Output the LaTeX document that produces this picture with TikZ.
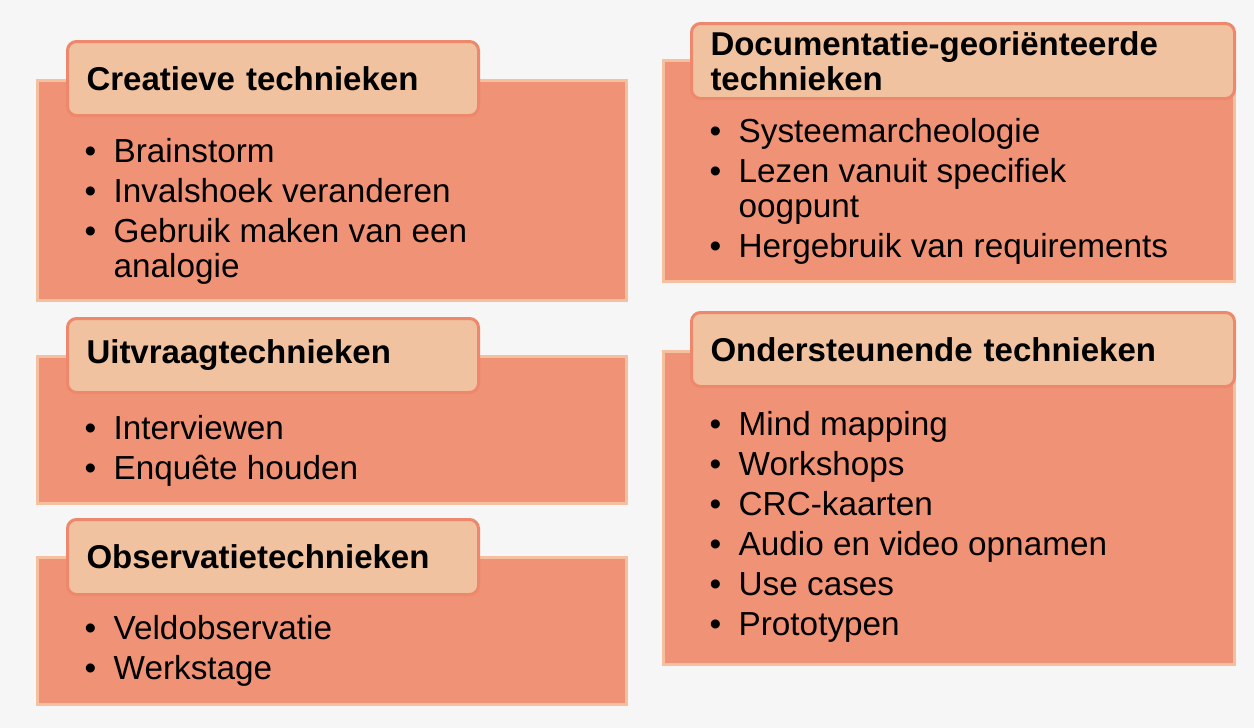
\documentclass[tikz,border=0pt]{standalone}
\usepackage{fontspec}
\setmainfont{Liberation Sans}
\usepackage{xcolor}
\usepackage{tikz}
\usetikzlibrary{backgrounds}
\definecolor{bgcolor}{RGB}{246,246,246}
\definecolor{bodycolor}{RGB}{240,146,118}
\definecolor{bodyrule}{RGB}{244,192,160}
\definecolor{kopcolor}{RGB}{241,194,159}
\definecolor{koprule}{RGB}{238,136,108}
\newcommand{\kopfont}{\fontsize{33}{35}\selectfont\bfseries}
\newcommand{\lijstfont}{\fontsize{33.3}{35}\selectfont}
\tikzset{
	body/.style={
		,rectangle
		,fill		= bodycolor
		,draw		= bodyrule
		,line width	= 3pt
		,anchor		= north west
		,inner sep	= 0pt
		,outer sep	= 0pt
	}
	,kop/.style		= {rectangle, rounded corners=9pt, fill=kopcolor, draw=koprule, line width=3pt,
		anchor=north west, outer sep=0pt, inner xsep=19pt, inner ysep=0pt, align=left, font=\kopfont}
	,lijst/.style	= {anchor=base west, inner sep=0pt, font=\lijstfont}
}

\begin{document}
\begin{tikzpicture}[x=1pt, y=-1pt]

	% the page
	\fill[bgcolor] (0,0) rectangle (1254,728);
	\useasboundingbox (0,0) rectangle (1254,728);

	% left column
	\node (creatief) [body, minimum width=589pt, minimum height=220pt] at (37.5,80.5) {};
	\node (creatief-kop) [kop, text width=373pt, minimum height=74pt] at (67.5,41.5) {Creatieve technieken};
	\node (creatief-lijst) [lijst] at (84.5,162) {%
		\begin{tabular}[t]{@{}p{29pt}@{}l@{}}
		\textbullet & Brainstorm \\[5pt]
		\textbullet & Invalshoek veranderen \\[5pt]
		\textbullet & Gebruik maken van een \\
		            & analogie
		\end{tabular}};

	\node (uitvraag) [body, minimum width=589pt, minimum height=147pt] at (37.5,356.5) {};
	\node (uitvraag-kop) [kop, text width=373pt, minimum height=74pt] at (67.5,318.5) {Uitvraagtechnieken};
	\node (uitvraag-lijst) [lijst] at (84.5,439) {%
		\begin{tabular}[t]{@{}p{29pt}@{}l@{}}
		\textbullet & Interviewen \\[5pt]
		\textbullet & Enquête houden
		\end{tabular}};

	\node (observatie) [body, minimum width=589pt, minimum height=147pt] at (37.5,557.5) {};
	\node (observatie-kop) [kop, text width=373pt, minimum height=75pt] at (67.5,519.5) {Observatietechnieken};
	\node (observatie-lijst) [lijst] at (84.5,639) {%
		\begin{tabular}[t]{@{}p{29pt}@{}l@{}}
		\textbullet & Veldobservatie \\[5pt]
		\textbullet & Werkstage
		\end{tabular}};

	% right column
	\node (documentatie) [body, minimum width=571pt, minimum height=221pt] at (663.5,60.5) {};
	\node (documentatie-kop) [kop, text width=505pt, minimum height=75pt] at (691.5,23.5) {Documentatie-georiënteerde\\technieken};
	\node (documentatie-lijst) [lijst] at (709.5,142) {%
		\begin{tabular}[t]{@{}p{29pt}@{}l@{}}
		\textbullet & Systeemarcheologie \\[5pt]
		\textbullet & Lezen vanuit specifiek \\
		            & oogpunt \\[5pt]
		\textbullet & Hergebruik van requirements
		\end{tabular}};

	\node (ondersteunend) [body, minimum width=571pt, minimum height=313pt] at (663.5,351.5) {};
	\node (ondersteunend-kop) [kop, text width=505pt, minimum height=74pt] at (691.5,312.5) {Ondersteunende technieken};
	\node (ondersteunend-lijst) [lijst] at (709.5,435) {%
		\begin{tabular}[t]{@{}p{29pt}@{}l@{}}
		\textbullet & Mind mapping \\[5pt]
		\textbullet & Workshops \\[5pt]
		\textbullet & CRC-kaarten \\[5pt]
		\textbullet & Audio en video opnamen \\[5pt]
		\textbullet & Use cases \\[5pt]
		\textbullet & Prototypen
		\end{tabular}};
\end{tikzpicture}
\end{document}
